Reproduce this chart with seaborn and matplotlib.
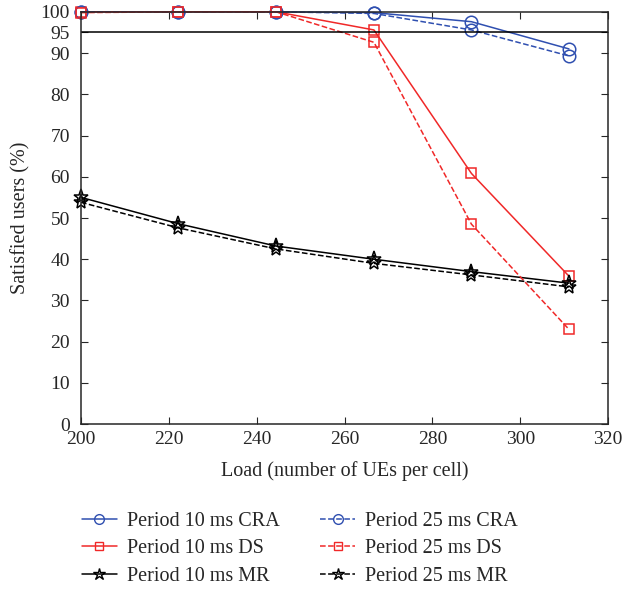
import pandas as pd
import matplotlib
matplotlib.use("Agg")
import matplotlib.pyplot as plt
from matplotlib.lines import Line2D
import seaborn as sns

# Data
load = [200.0, 222.2, 244.4, 266.7, 288.9, 311.1]
cra_10 = [100.0, 100.0, 100.0, 99.8, 97.6, 91.0]
cra_25 = [100.0, 100.0, 100.0, 99.6, 95.6, 89.3]
ds_10 = [100.0, 100.0, 100.0, 95.6, 60.8, 35.9]
ds_25 = [99.8, 100.0, 100.0, 92.6, 48.5, 23.0]
mr_10 = [55.0, 48.6, 43.2, 40.0, 37.0, 34.2]
mr_25 = [53.8, 47.6, 42.5, 39.0, 36.2, 33.3]

series = [
    ("Period 10 ms CRA", cra_10, "#2f4fb0", "-", "o"),
    ("Period 10 ms DS", ds_10, "#f02828", "-", "s"),
    ("Period 10 ms MR", mr_10, "black", "-", "*"),
    ("Period 25 ms CRA", cra_25, "#2f4fb0", "--", "o"),
    ("Period 25 ms DS", ds_25, "#f02828", "--", "s"),
    ("Period 25 ms MR", mr_25, "black", "--", "*"),
]
marker_sizes = {"o": 9, "s": 7.5, "*": 11}

sns.set_style("ticks")
plt.rcParams["font.family"] = ["Liberation Serif", "DejaVu Serif"]
plt.rcParams["xtick.direction"] = "in"
plt.rcParams["ytick.direction"] = "in"

fig = plt.figure(figsize=(6.23, 5.9), dpi=100)
ax = fig.add_axes([0.130, 0.281, 0.846, 0.699])

handles = []
for name, vals, color, ls, mk in series:
    df = pd.DataFrame({"load": load, "sat": vals})
    sns.lineplot(data=df, x="load", y="sat", ax=ax, color=color, linestyle=ls,
                 linewidth=1.1, marker=mk, markersize=marker_sizes[mk],
                 markerfacecolor="none", markeredgecolor=color, markeredgewidth=1.1,
                 clip_on=False, legend=False)
    handles.append(Line2D([], [], color=color, linestyle=ls, linewidth=1.1, marker=mk,
                          markersize=marker_sizes[mk] - 2, markerfacecolor="none",
                          markeredgecolor=color, label=name))

ax.axhline(95, color="black", linewidth=1.1)

ax.set_xlim(200, 320)
ax.set_ylim(0, 100)
ax.set_xticks(range(200, 321, 20))
ax.set_yticks([0, 10, 20, 30, 40, 50, 60, 70, 80, 90, 95, 100])
ax.tick_params(axis="both", direction="in", top=True, right=True, labelsize=14,
               length=5)
ax.tick_params(axis="x", pad=5)
ax.tick_params(axis="y", pad=8)
for s in ax.spines.values():
    s.set_linewidth(1.1)
ax.set_xlabel("Load (number of UEs per cell)", fontsize=14.5, labelpad=9)
ax.set_ylabel("Satisfied users (%)", fontsize=14.5, labelpad=7)

fig.legend(handles=handles, ncol=2, loc="lower left", bbox_to_anchor=(0.102, -0.024),
           frameon=False, fontsize=14.5, handlelength=1.75, handletextpad=0.5,
           columnspacing=2.0, labelspacing=0.42)

fig.savefig("out.png", dpi=100)
